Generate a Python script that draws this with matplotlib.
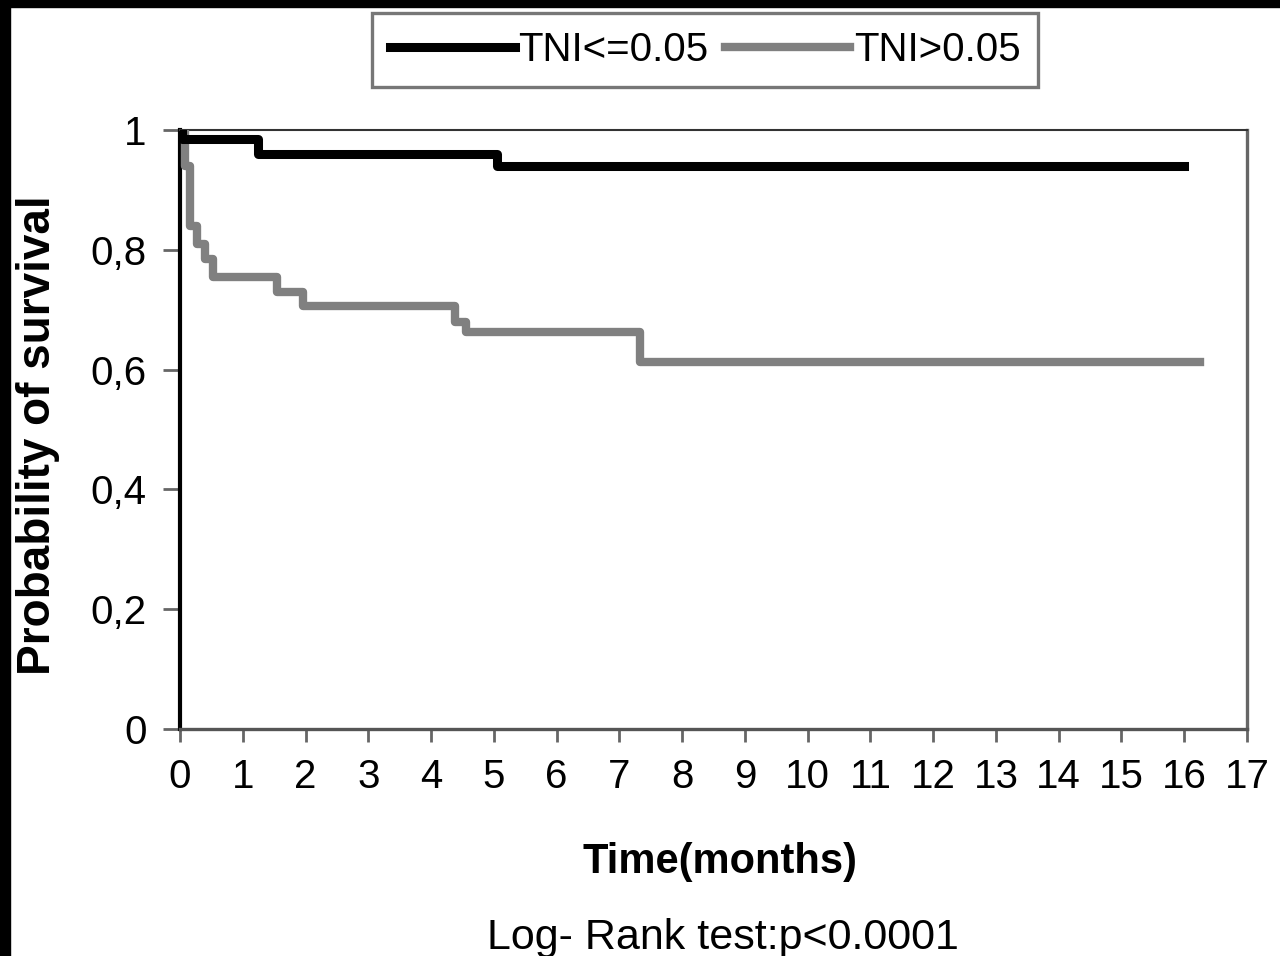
import matplotlib
matplotlib.use("Agg")
import matplotlib.pyplot as plt
from matplotlib.patches import Rectangle

plt.rcParams['font.family'] = ['Liberation Sans', 'DejaVu Sans']

# Kaplan-Meier steps (time in months, survival probability)
tni_low_time = [0.0, 0.03, 1.24, 5.05, 16.0]
tni_low_surv = [1.0, 0.985, 0.96, 0.94, 0.94]
tni_high_time = [0.0, 0.08, 0.16, 0.27, 0.40, 0.52, 1.55, 1.96, 4.38, 4.56, 7.33, 16.25]
tni_high_surv = [1.0, 0.94, 0.84, 0.81, 0.785, 0.755, 0.73, 0.706, 0.68, 0.662, 0.612, 0.612]

x_ticks = list(range(0, 18))
y_ticks = [0, 0.2, 0.4, 0.6, 0.8, 1.0]
y_tick_labels = ["0", "0,2", "0,4", "0,6", "0,8", "1"]

fig = plt.figure(figsize=(12.8, 9.56), dpi=100)
ax = fig.add_axes([180 / 1280, 1 - 729 / 956, 1067 / 1280, 599 / 956])

ax.step(tni_low_time, tni_low_surv, where='post', color='black', linewidth=6.5, label='TNI<=0.05', zorder=4)
ax.step(tni_high_time, tni_high_surv, where='post', color='#808080', linewidth=6, label='TNI>0.05', zorder=3)

ax.set_xlim(0, 17)
ax.set_ylim(0, 1)
ax.set_xticks(x_ticks)
ax.set_xticklabels([str(t) for t in x_ticks])
ax.set_yticks(y_ticks)
ax.set_yticklabels(y_tick_labels)
ax.tick_params(axis='x', direction='out', length=9, width=2, color='#666666', pad=12, labelsize=29)
ax.tick_params(axis='y', direction='out', length=12, width=2, color='#666666', pad=12, labelsize=29)

ax.spines['left'].set_color('black')
ax.spines['left'].set_linewidth(3)
ax.spines['bottom'].set_color('#555555')
ax.spines['bottom'].set_linewidth(2.4)
ax.spines['right'].set_color('#666666')
ax.spines['right'].set_linewidth(2.4)
ax.spines['top'].set_color('#333333')
ax.spines['top'].set_linewidth(1.5)

leg = ax.legend(
    loc='center',
    bbox_to_anchor=(705 / 1280, 1 - 50 / 956),
    bbox_transform=fig.transFigure,
    ncol=2,
    fontsize=29,
    handlelength=3.1,
    handletextpad=0.1,
    columnspacing=0.4,
    borderpad=0.45,
    borderaxespad=0,
    fancybox=False,
    framealpha=1,
    edgecolor='#777777',
)
leg.get_frame().set_linewidth(2.4)

fig.text(50 / 1280, 1 - 435 / 956, 'Probability of survival', rotation=90, rotation_mode='anchor',
         ha='center', va='baseline', fontsize=33, fontweight='bold')
fig.text(720 / 1280, 1 - 873 / 956, 'Time(months)', ha='center', va='baseline', fontsize=30, fontweight='bold')
fig.text(723 / 1280, 1 - 949 / 956, 'Log- Rank test:p<0.0001', ha='center', va='baseline', fontsize=31)

# black frame strips along the left and top edges of the scan
fig.add_artist(Rectangle((0, 0), 10 / 1280, 1, transform=fig.transFigure, color='black', zorder=10))
fig.add_artist(Rectangle((0, 1 - 7 / 956), 1, 7 / 956, transform=fig.transFigure, color='black', zorder=10))

fig.savefig('out.png', dpi=100)
